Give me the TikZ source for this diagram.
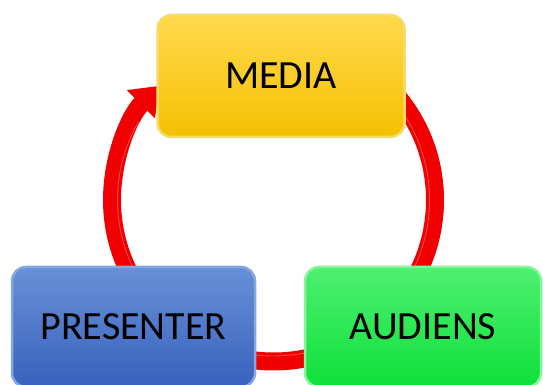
\documentclass[tikz,border=0pt]{standalone}
\usepackage{fontspec}
\setmainfont{Carlito}
\usetikzlibrary{arrows.meta,backgrounds,calc}
\definecolor{ringred}{HTML}{F00000}
\definecolor{ringlight}{HTML}{FF7070}
\definecolor{ytop}{HTML}{FFD94E}
\definecolor{ybot}{HTML}{F4C000}
\definecolor{yborder}{HTML}{F5DC6A}
\definecolor{btop}{HTML}{6890D8}
\definecolor{bbot}{HTML}{3862BC}
\definecolor{bborder}{HTML}{86A6E0}
\definecolor{gtop}{HTML}{4EF070}
\definecolor{gbot}{HTML}{0EE03A}
\definecolor{gborder}{HTML}{88F59C}
\tikzset{
  box/.style={rounded corners=14pt, line width=2.5pt, inner sep=0pt,
    font=\fontsize{40}{44}\selectfont, text=black},
  ringstyle/.style={line width=18pt, draw=ringred,
    -{Triangle[width=38pt,length=26pt,fill=ringred]}},
  ringshine/.style={line width=0.9pt, draw=ringlight, opacity=0.6},
}
\begin{document}
\begin{tikzpicture}[x=1pt,y=1pt]
\useasboundingbox (0,0) rectangle (543,385);
\coordinate (c) at (273.5,185);
\node[box, draw=yborder, top color=ytop, bottom color=ybot,
  minimum width=247pt, minimum height=122pt] (media) at (281,309) {MEDIA};
\node[box, draw=bborder, top color=btop, bottom color=bbot,
  minimum width=243pt, minimum height=120pt] (presenter) at (133.5,58) {PRESENTER};
\node[box, draw=gborder, top color=gtop, bottom color=gbot,
  minimum width=236pt, minimum height=120pt] (audiens) at (423,58) {AUDIENS};
\begin{scope}[on background layer]
  \coordinate (ringstart) at ($(c)+(90:161.5)$);
  \coordinate (shinestart) at ($(c)+(90:156)$);
  \draw[ringstyle] (ringstart) arc[start angle=90, end angle=-225, radius=161.5];
  \draw[ringshine] (shinestart) arc[start angle=90, end angle=-210, radius=156];
\end{scope}
\end{tikzpicture}
\end{document}
